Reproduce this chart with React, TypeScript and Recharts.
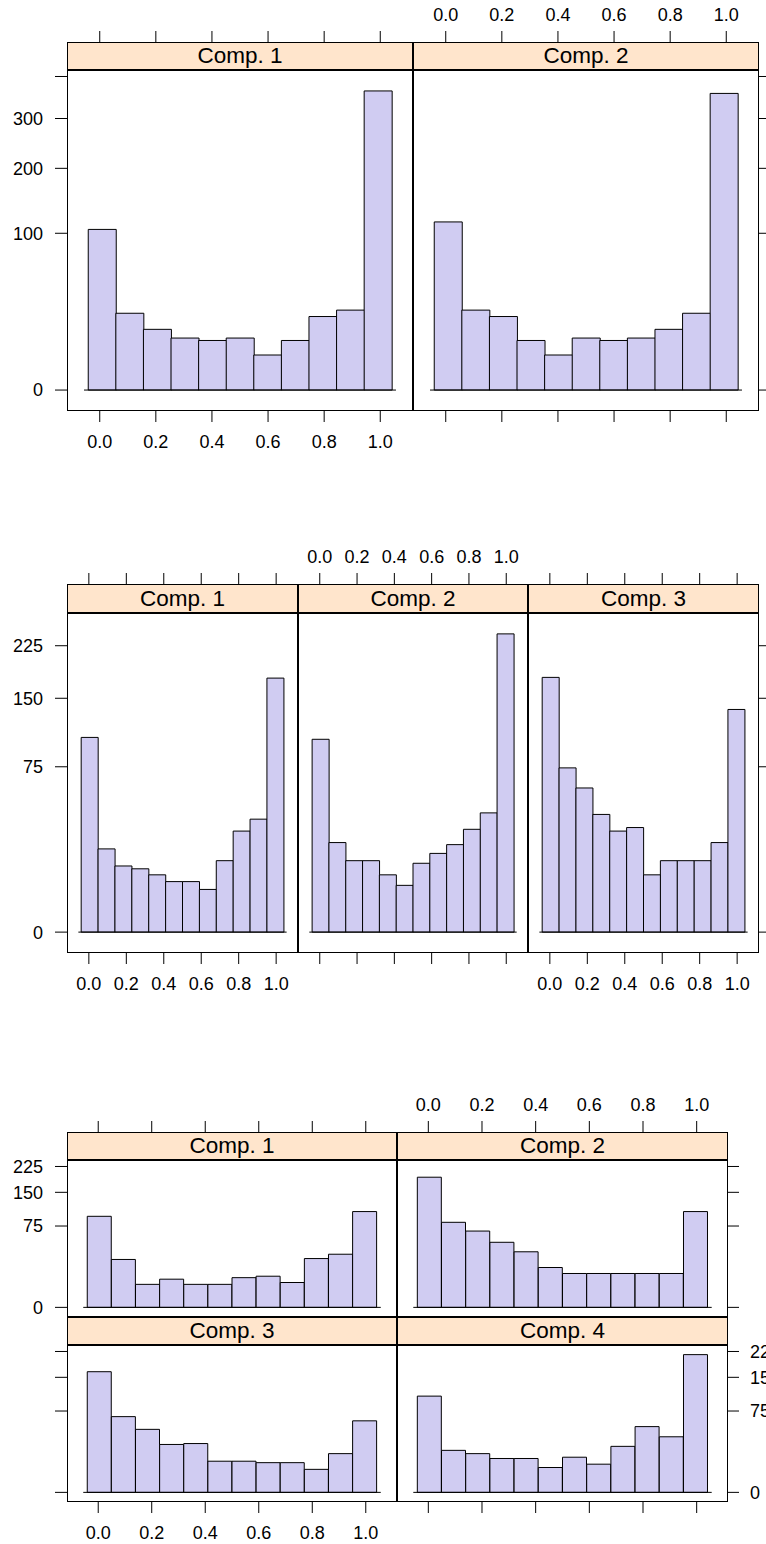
import React from 'react';
import { BarChart, Bar, XAxis, YAxis, ReferenceLine } from 'recharts';

// ---- categories (histogram bins) ----
const BINS_11 = ['1', '2', '3', '4', '5', '6', '7', '8', '9', '10', '11'];
const BINS_12 = ['1', '2', '3', '4', '5', '6', '7', '8', '9', '10', '11', '12'];

// ---- tick values / labels ----
const X_TICKS = [0, 0.2, 0.4, 0.6, 0.8, 1.0];
const X_TICK_LABELS = ['0.0', '0.2', '0.4', '0.6', '0.8', '1.0'];
const G1_Y_TICKS = [0, 100, 200, 300, 400];
const G1_Y_LABELS = ['0', '100', '200', '300', ''];
const G23_Y_TICKS = [0, 75, 150, 225];
const G23_Y_LABELS = ['0', '75', '150', '225'];

// ---- series values (counts) ----
const G1_COMP1 = [105, 24, 15, 11, 10, 11, 5, 10, 22, 26, 364];
const G1_COMP2 = [115, 26, 22, 10, 5, 11, 10, 11, 15, 24, 358];

const G2_COMP1 = [104, 19, 12, 11, 9, 7, 7, 5, 14, 28, 35, 177];
const G2_COMP2 = [102, 22, 14, 14, 9, 6, 13, 17, 21, 29, 39, 244];
const G2_COMP3 = [178, 74, 57, 38, 28, 30, 9, 14, 14, 14, 22, 136];

const G3_COMP1 = [94, 26, 6, 9, 6, 6, 10, 11, 7, 27, 32, 104];
const G3_COMP2 = [192, 82, 66, 48, 35, 18, 13, 13, 13, 13, 13, 104];
const G3_COMP3 = [165, 65, 45, 26, 27, 11, 11, 10, 10, 6, 17, 58];
const G3_COMP4 = [105, 20, 17, 13, 13, 7, 14, 9, 24, 49, 35, 215];

// ---- axis ranges ----
const X_DOMAIN: [number, number] = [-0.1167, 1.1167];
const BIN_RANGE = [-0.041, 1.041];
const BASELINE_RANGE = [-0.056, 1.056];

const FONT = '"Liberation Sans", Arial, Helvetica, sans-serif';
const BAR_FILL = '#D0CCF2';
const STRIP_FILL = '#FFE5CC';
const M = 60;
const MT = 100;
const TICK = 11;

type Side = 'none' | 'ticks' | 'labels';

interface PanelProps {
  title: string;
  values: number[];
  bins: string[];
  x: number;
  w: number;
  stripTop: number;
  stripH: number;
  plotH: number;
  yMax: number;
  yTicks: number[];
  yLabels: string[];
  top: Side;
  bottom: Side;
  left: Side;
  right: Side;
}

function xFmt(v: number) {
  const i = X_TICKS.findIndex((t) => Math.abs(t - v) < 1e-9);
  return i >= 0 ? X_TICK_LABELS[i] : '';
}

function Panel(p: PanelProps) {
  const plotTop = p.stripTop + p.stripH;
  const r = Math.sqrt(p.yMax);
  const yDomain: [number, number] = [-Math.pow(0.07 * r, 2), Math.pow(1.07 * r, 2)];
  const span = X_DOMAIN[1] - X_DOMAIN[0];
  const padL = (p.w * (BIN_RANGE[0] - X_DOMAIN[0])) / span;
  const padR = (p.w * (X_DOMAIN[1] - BIN_RANGE[1])) / span;
  const data = p.bins.map((b, i) => ({ bin: b, count: p.values[i] }));
  const yFmt = (v: number) => {
    const i = p.yTicks.indexOf(v);
    return i >= 0 ? p.yLabels[i] : '';
  };
  const tickStyle = { fontSize: 18, fill: '#000', fontFamily: FONT };

  const topTick = (tp: any) => {
    const base = tp.y - p.stripH;
    return (
      <g>
        <line x1={tp.x} x2={tp.x} y1={base} y2={base - TICK} stroke="#000" strokeWidth={1} />
        {p.top === 'labels' && (
          <text x={tp.x} y={base - 21} textAnchor="middle" fontSize={18} fontFamily={FONT} fill="#000">
            {xFmt(tp.payload.value)}
          </text>
        )}
      </g>
    );
  };

  return (
    <>
      <div
        style={{
          position: 'absolute',
          left: p.x,
          top: p.stripTop,
          width: p.w,
          height: p.stripH,
          boxSizing: 'border-box',
          border: '1px solid #000',
          background: STRIP_FILL,
          fontFamily: FONT,
          fontSize: 22.5,
          lineHeight: `${p.stripH - 2}px`,
          textAlign: 'center',
          color: '#000',
          whiteSpace: 'nowrap',
        }}
      >
        {p.title}
      </div>
      <div
        style={{
          position: 'absolute',
          left: p.x,
          top: plotTop,
          width: p.w,
          height: p.plotH,
          boxSizing: 'border-box',
          border: '1px solid #000',
        }}
      />
      <div style={{ position: 'absolute', left: p.x - M, top: plotTop - MT }}>
        <BarChart
          width={p.w + 2 * M}
          height={p.plotH + MT + M}
          data={data}
          margin={{ top: 0, right: 0, bottom: 0, left: 0 }}
          barCategoryGap={0}
          barGap={0}
        >
          <XAxis
            xAxisId="b"
            dataKey="bin"
            type="category"
            hide
            height={0}
            padding={{ left: padL, right: padR }}
          />
          <XAxis
            xAxisId="t"
            dataKey="count"
            type="number"
            orientation="bottom"
            domain={X_DOMAIN}
            allowDataOverflow
            ticks={X_TICKS}
            interval={0}
            height={M}
            axisLine={false}
            stroke="#000"
            tickLine={p.bottom === 'none' ? false : { stroke: '#000' }}
            tick={p.bottom === 'none' ? false : tickStyle}
            tickSize={TICK}
            tickMargin={13}
            tickFormatter={(v: number) => (p.bottom === 'labels' ? xFmt(v) : '')}
          />
          <XAxis
            xAxisId="tt"
            dataKey="count"
            type="number"
            orientation="top"
            domain={X_DOMAIN}
            allowDataOverflow
            ticks={X_TICKS}
            interval={0}
            height={MT}
            axisLine={false}
            tickLine={false}
            tickSize={0}
            tickMargin={0}
            tick={p.top === 'none' ? false : topTick}
          />
          <YAxis
            yAxisId="l"
            orientation="left"
            type="number"
            scale="sqrt"
            domain={yDomain}
            allowDataOverflow
            ticks={p.yTicks}
            interval={0}
            width={M}
            axisLine={false}
            stroke="#000"
            tickLine={p.left === 'none' ? false : { stroke: '#000' }}
            tick={p.left === 'none' ? false : tickStyle}
            tickSize={12}
            tickMargin={12}
            tickFormatter={(v: number) => (p.left === 'labels' ? yFmt(v) : '')}
          />
          <YAxis
            yAxisId="r"
            orientation="right"
            type="number"
            scale="sqrt"
            domain={yDomain}
            allowDataOverflow
            ticks={p.yTicks}
            interval={0}
            width={M}
            axisLine={false}
            stroke="#000"
            tickLine={p.right === 'none' ? false : { stroke: '#000' }}
            tick={p.right === 'none' ? false : tickStyle}
            tickSize={11}
            tickMargin={11}
            tickFormatter={(v: number) => (p.right === 'labels' ? yFmt(v) : '')}
          />
          <Bar
            xAxisId="b"
            yAxisId="l"
            dataKey="count"
            fill={BAR_FILL}
            stroke="#000"
            strokeWidth={1}
            isAnimationActive={false}
          />
          <ReferenceLine
            xAxisId="t"
            yAxisId="l"
            segment={[
              { x: BASELINE_RANGE[0], y: 0 },
              { x: BASELINE_RANGE[1], y: 0 },
            ]}
            stroke="#000"
            strokeWidth={1}
          />
        </BarChart>
      </div>
    </>
  );
}

const G1_MAX = Math.max(...G1_COMP1, ...G1_COMP2);
const G2_MAX = Math.max(...G2_COMP1, ...G2_COMP2, ...G2_COMP3);
const G3_MAX = Math.max(...G3_COMP1, ...G3_COMP2, ...G3_COMP3, ...G3_COMP4);

export default function App() {
  const g1 = { stripTop: 42, stripH: 28, plotH: 341, yMax: G1_MAX, yTicks: G1_Y_TICKS, yLabels: G1_Y_LABELS, bins: BINS_11 };
  const g2 = { stripTop: 584, stripH: 29, plotH: 340, yMax: G2_MAX, yTicks: G23_Y_TICKS, yLabels: G23_Y_LABELS, bins: BINS_12 };
  const g3a = { stripTop: 1132, stripH: 28, plotH: 157, yMax: G3_MAX, yTicks: G23_Y_TICKS, yLabels: G23_Y_LABELS, bins: BINS_12 };
  const g3b = { stripTop: 1317, stripH: 28, plotH: 157, yMax: G3_MAX, yTicks: G23_Y_TICKS, yLabels: G23_Y_LABELS, bins: BINS_12 };
  return (
    <div
      style={{
        position: 'absolute',
        left: 0,
        top: 0,
        width: 766,
        height: 1544,
        overflow: 'hidden',
        background: '#fff',
        fontFamily: FONT,
      }}
    >
      <Panel {...g1} title="Comp. 1" values={G1_COMP1} x={67} w={346} top="ticks" bottom="labels" left="labels" right="none" />
      <Panel {...g1} title="Comp. 2" values={G1_COMP2} x={413} w={346} top="labels" bottom="ticks" left="none" right="ticks" />

      <Panel {...g2} title="Comp. 1" values={G2_COMP1} x={67} w={231} top="ticks" bottom="labels" left="labels" right="none" />
      <Panel {...g2} title="Comp. 2" values={G2_COMP2} x={298} w={230} top="labels" bottom="ticks" left="none" right="none" />
      <Panel {...g2} title="Comp. 3" values={G2_COMP3} x={528} w={231} top="ticks" bottom="labels" left="none" right="ticks" />

      <Panel {...g3a} title="Comp. 1" values={G3_COMP1} x={67} w={330} top="ticks" bottom="none" left="labels" right="none" />
      <Panel {...g3a} title="Comp. 2" values={G3_COMP2} x={397} w={331} top="labels" bottom="none" left="none" right="ticks" />
      <Panel {...g3b} title="Comp. 3" values={G3_COMP3} x={67} w={330} top="none" bottom="labels" left="ticks" right="none" />
      <Panel {...g3b} title="Comp. 4" values={G3_COMP4} x={397} w={331} top="none" bottom="ticks" left="none" right="labels" />
    </div>
  );
}
